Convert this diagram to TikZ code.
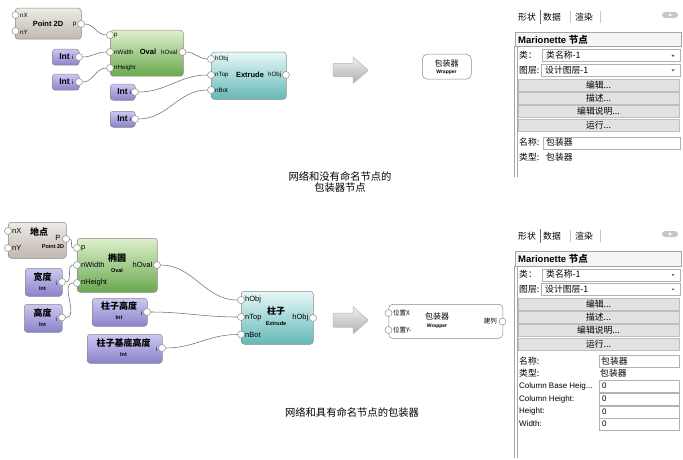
\documentclass[tikz,border=0pt]{standalone}
\usepackage{fontspec}
\setmainfont{Liberation Sans}
\newfontfamily\cjk{Noto Sans CJK SC}
\usetikzlibrary{shadows}
\definecolor{ptT}{HTML}{EEEAE6}
\definecolor{ptB}{HTML}{C0B8B0}
\definecolor{ovT}{HTML}{DDF0CC}
\definecolor{ovB}{HTML}{6AA84E}
\definecolor{exT}{HTML}{E6F8F8}
\definecolor{exB}{HTML}{66B8B8}
\definecolor{inT}{HTML}{CCC8F0}
\definecolor{inB}{HTML}{8A82CA}
\definecolor{edgec}{HTML}{8A8A8A}
\definecolor{wirec}{HTML}{6E6E6E}
\definecolor{btnc}{HTML}{E2E2E2}
\newcommand\PanelTop{%
  \node[ptxt] (tab1) at (518,17) {形状};
  \draw[gray!85!black,line width=0.6pt] (540,10) -- (540,24);
  \node[ptxt] (tab2) at (543,17) {数据};
  \draw[gray!45] (570,11) -- (570,23);
  \node[ptxt] (tab3) at (575,17) {渲染};
  \draw[gray!45] (600,11) -- (600,23);
  \node[fill=gray!45,rounded corners=3pt,minimum width=16pt,minimum height=6pt,inner sep=0pt] (pill) at (670,15) {};
  \fill[white] (669,13.3) -- (672,15) -- (669,16.7) -- cycle;
  \node[draw=gray!70,fill=gray!8,anchor=north west,minimum width=166pt,minimum height=14.5pt,inner sep=0pt,line width=0.5pt] (mbox) at (515,32) {};
  \node[ptxt,font=\bfseries\fontsize{9.5}{10}\selectfont] (mtxt) at (518,39.5) {Marionette {\cjk 节点}};
  \node[ptxt] (lc) at (519,55.5) {类：};
  \node[pfield,minimum width=138pt] (fc) at (542,49.5) {};
  \node[ptxt] (fct) at (546,55.5) {类名称-1};
  \fill[gray!70!black] (671.5,55) -- (674.5,55) -- (673,57) -- cycle;
  \node[ptxt] (ll) at (519,70) {图层:};
  \node[pfield,minimum width=139pt] (fl) at (541,64) {};
  \node[ptxt] (flt) at (545,70) {设计图层-1};
  \fill[gray!70!black] (671.5,69.5) -- (674.5,69.5) -- (673,71.5) -- cycle;
  \node[pbtn] (b1) at (598.5,85) {编辑...};
  \node[pbtn] (b2) at (598.5,98) {描述...};
  \node[pbtn] (b3) at (598.5,111) {编辑说明...};
  \node[pbtn] (b4) at (598.5,125) {运行...};
}
\begin{document}
\begin{tikzpicture}[x=1pt,y=-1pt,
  port/.style={circle,draw=edgec,fill=white,inner sep=0pt,minimum size=7pt,line width=0.5pt},
  wire/.style={draw=wirec,line width=0.55pt},
  blk/.style={draw=edgec,rounded corners=3pt,anchor=north west,inner sep=0pt,line width=0.5pt},
  ptb/.style={blk,top color=ptT,bottom color=ptB},
  ovb/.style={blk,top color=ovT,bottom color=ovB},
  exb/.style={blk,top color=exT,bottom color=exB},
  inb/.style={blk,top color=inT,bottom color=inB},
  lbl/.style={inner sep=0pt,anchor=west,font=\fontsize{6.2}{7}\selectfont},
  rlbl/.style={inner sep=0pt,anchor=east,font=\fontsize{6.2}{7}\selectfont},
  lblb/.style={inner sep=0pt,anchor=west,font=\fontsize{7.5}{8}\selectfont},
  rlblb/.style={inner sep=0pt,anchor=east,font=\fontsize{7.5}{8}\selectfont},
  ttl/.style={inner sep=0pt,font=\bfseries\fontsize{7.5}{8}\selectfont},
  intt/.style={inner sep=0pt,font=\bfseries\fontsize{8.5}{9}\selectfont},
  ctt/.style={inner sep=0pt,font=\cjk\bfseries\fontsize{9}{10}\selectfont},
  subt/.style={inner sep=0pt,font=\bfseries\fontsize{5.5}{6}\selectfont},
  ptxt/.style={inner sep=0pt,anchor=west,font=\cjk\fontsize{8.8}{9}\selectfont},
  etxt/.style={inner sep=0pt,anchor=west,font=\fontsize{8}{8.5}\selectfont},
  pfield/.style={draw=gray!60,fill=white,anchor=north west,minimum height=12pt,inner sep=0pt,line width=0.4pt},
  pbtn/.style={draw=gray!50,fill=btnc,minimum width=161pt,minimum height=12pt,inner sep=0pt,line width=0.4pt,font=\cjk\fontsize{8.8}{9}\selectfont},
  bigarrow/.style={draw=gray!55,top color=gray!12,bottom color=gray!62,line width=0.5pt,
     drop shadow={shadow xshift=0.7pt,shadow yshift=-0.7pt,opacity=0.35}},
  wrapbox/.style={draw=edgec,fill=white,anchor=north west,inner sep=0pt,line width=0.5pt,rounded corners=5pt},
  captxt/.style={inner sep=0pt,align=center,font=\cjk\fontsize{10.3}{11}\selectfont}
]
\useasboundingbox (0,0) rectangle (683,460);

% ================= TOP NETWORK =================
\node[ptb,minimum width=66pt,minimum height=31pt] (A) at (15,8) {};
\node[ttl] (A-t) at (48,24) {Point 2D};
\node[lbl] (A-nxl) at (20,15) {nX};
\node[lbl] (A-nyl) at (20,32) {nY};
\node[rlbl] (A-pl) at (76.5,24) {p};
\node[port] (A-nx) at (15.5,15) {};
\node[port] (A-ny) at (15.5,31) {};
\node[port] (A-p) at (81,24) {};

\node[ovb,minimum width=73pt,minimum height=46pt] (B) at (110,30) {};
\node[ttl] (B-t) at (148,52) {Oval};
\node[lbl] (B-pl) at (114,35.5) {p};
\node[lbl] (B-nwl) at (114,52) {nWidth};
\node[lbl] (B-nhl) at (114,68) {nHeight};
\node[rlbl] (B-ol) at (177.5,52) {hOval};
\node[port] (B-p) at (110,35) {};
\node[port] (B-nw) at (110,52) {};
\node[port] (B-nh) at (110,68) {};
\node[port] (B-o) at (182.5,52) {};

\node[exb,minimum width=75pt,minimum height=47pt] (C) at (211,52) {};
\node[ttl] (C-t) at (250,75) {Extrude};
\node[lbl] (C-hl) at (215,59) {hObj};
\node[lbl] (C-tl) at (215,75) {nTop};
\node[lbl] (C-bl) at (215,90) {nBot};
\node[rlbl] (C-ol) at (281.5,75) {hObj};
\node[port] (C-h) at (211,59) {};
\node[port] (C-nt) at (211,75) {};
\node[port] (C-nb) at (211,90) {};
\node[port] (C-o) at (286,75) {};

\node[inb,minimum width=27pt,minimum height=16pt] (I1) at (52,49) {};
\node[intt] (I1-t) at (64.5,57) {Int};
\node[lbl] (I1-i) at (72,57) {i};
\node[port] (I1-o) at (79,57) {};
\node[inb,minimum width=27pt,minimum height=16pt] (I2) at (52,74) {};
\node[intt] (I2-t) at (64.5,82) {Int};
\node[lbl] (I2-i) at (72,82) {i};
\node[port] (I2-o) at (79,82) {};
\node[inb,minimum width=25pt,minimum height=16pt] (I3) at (110,84) {};
\node[intt] (I3-t) at (122.5,92) {Int};
\node[lbl] (I3-i) at (129.5,92) {i};
\node[port] (I3-o) at (135,92) {};
\node[inb,minimum width=25pt,minimum height=16pt] (I4) at (110,111) {};
\node[intt] (I4-t) at (122.5,119) {Int};
\node[lbl] (I4-i) at (129.5,119) {i};
\node[port] (I4-o) at (135,119) {};

\draw[wire] (A-p) to[out=0,in=180] (B-p);
\draw[wire] (I1-o) to[out=0,in=180] (B-nw);
\draw[wire] (I2-o) to[out=0,in=180] (B-nh);
\draw[wire] (B-o) to[out=0,in=180] (C-h);
\draw[wire] (I3-o) to[out=0,in=180] (C-nt);
\draw[wire] (I4-o) to[out=0,in=180] (C-nb);

% arrow and wrapper 1
\path[bigarrow] (333,63.5) -- (353,63.5) -- (353,57) -- (368,70) -- (353,83) -- (353,76.5) -- (333,76.5) -- cycle;
\node[wrapbox,minimum width=49pt,minimum height=25pt] (W1) at (422,54) {};
\node[inner sep=0pt,font=\cjk\fontsize{8}{9}\selectfont] (W1-t) at (446.5,63) {包装器};
\node[inner sep=0pt,font=\bfseries\fontsize{5}{6}\selectfont] (W1-s) at (446.5,72) {Wrapper};

\node[captxt] (cap1) at (340,182.5) {网络和没有命名节点的\\包装器节点};

% ================= BOTTOM NETWORK =================
\node[ptb,minimum width=58pt,minimum height=36pt] (D) at (8,222) {};
\node[ctt] (D-t) at (39,232) {地点};
\node[subt] (D-s) at (53,246.5) {Point 2D};
\node[lblb] (D-nxl) at (12,231) {nX};
\node[lblb] (D-nyl) at (12,248) {nY};
\node[rlblb] (D-pl) at (60.5,238) {P};
\node[port] (D-nx) at (8,231) {};
\node[port] (D-ny) at (8,248) {};
\node[port] (D-o) at (66,239) {};

\node[ovb,minimum width=80pt,minimum height=54pt] (E) at (77,238) {};
\node[ctt] (E-t) at (117,258) {椭圆};
\node[subt] (E-s) at (117,271) {Oval};
\node[lblb] (E-pl) at (81,248.5) {p};
\node[lblb] (E-nwl) at (81,265) {nWidth};
\node[lblb] (E-nhl) at (81,283) {nHeight};
\node[rlblb] (E-ol) at (152.5,265) {hOval};
\node[port] (E-p) at (77,248) {};
\node[port] (E-nw) at (77,265) {};
\node[port] (E-nh) at (77,283) {};
\node[port] (E-o) at (157,265) {};

\node[inb,minimum width=37pt,minimum height=28pt] (F) at (25,268) {};
\node[ctt] (F-t) at (42.5,277) {宽度};
\node[subt] (F-s) at (42.5,289) {Int};
\node[lbl] (F-i) at (55.5,283.5) {i};
\node[port] (F-o) at (62,282) {};

\node[inb,minimum width=38pt,minimum height=28pt] (G) at (24,304) {};
\node[ctt] (G-t) at (42.5,313) {高度};
\node[subt] (G-s) at (42.5,325) {Int};
\node[lbl] (G-i) at (55.5,319) {i};
\node[port] (G-o) at (62,317.5) {};

\node[inb,minimum width=55pt,minimum height=28pt] (H) at (92,298) {};
\node[ctt] (H-t) at (119,306) {柱子高度};
\node[subt] (H-s) at (119,318) {Int};
\node[lbl] (H-i) at (141,313) {i};
\node[port] (H-o) at (147,312) {};

\node[inb,minimum width=75pt,minimum height=29pt] (K) at (87,334) {};
\node[ctt] (K-t) at (123.5,343) {柱子基底高度};
\node[subt] (K-s) at (123.5,355) {Int};
\node[lbl] (K-i) at (156,349.5) {i};
\node[port] (K-o) at (162,348) {};

\node[exb,minimum width=72pt,minimum height=53pt] (J) at (241,291) {};
\node[ctt] (J-t) at (276,311.5) {柱子};
\node[subt] (J-s) at (276,323.5) {Extrude};
\node[lblb] (J-hl) at (245,300) {hObj};
\node[lblb] (J-tl) at (245,317.5) {nTop};
\node[lblb] (J-bl) at (245,335) {nBot};
\node[rlblb] (J-ol) at (308.5,318) {hObj};
\node[port] (J-h) at (241,300) {};
\node[port] (J-nt) at (241,317) {};
\node[port] (J-nb) at (241,334.5) {};
\node[port] (J-o) at (313,318) {};

\draw[wire] (D-o) to[out=0,in=180] (E-p);
\draw[wire] (F-o) to[out=0,in=180] (E-nw);
\draw[wire] (G-o) to[out=0,in=180] (E-nh);
\draw[wire] (E-o) to[out=0,in=180] (J-h);
\draw[wire] (H-o) to[out=0,in=180] (J-nt);
\draw[wire] (K-o) to[out=0,in=180] (J-nb);

% arrow and wrapper 2
\path[bigarrow] (333,313) -- (353,313) -- (353,306.5) -- (368,320) -- (353,333.5) -- (353,327) -- (333,327) -- cycle;
\node[wrapbox,rounded corners=4pt,minimum width=114pt,minimum height=34pt] (W2) at (388.5,304) {};
\node[inner sep=0pt,font=\cjk\fontsize{8}{9}\selectfont] (W2-t) at (437,316.5) {包装器};
\node[inner sep=0pt,font=\bfseries\fontsize{5}{6}\selectfont] (W2-s) at (437,326.5) {Wrapper};
\node[inner sep=0pt,anchor=west,font=\cjk\fontsize{6.5}{7}\selectfont] (W2-xl) at (393,313) {位置X};
\node[inner sep=0pt,anchor=west,font=\cjk\fontsize{6.5}{7}\selectfont] (W2-yl) at (393,330) {位置Y-};
\node[inner sep=0pt,anchor=east,font=\cjk\fontsize{6.5}{7}\selectfont] (W2-ol) at (497,321.5) {建列};
\node[port] (W2-x) at (388.5,313) {};
\node[port] (W2-y) at (388.5,330) {};
\node[port] (W2-o) at (502.5,321.5) {};

\node[captxt] (cap2) at (352,413) {网络和具有命名节点的包装器};

% ================= PANEL 1 =================
\begin{scope}[name prefix=p1-]
\PanelTop
\draw[gray!70,line width=0.5pt] (514.5,46.5) -- (514.5,177);
\draw[gray!70,line width=0.5pt] (517.3,46.5) -- (517.3,177);
\node[ptxt] (ln) at (519,142.5) {名称:};
\node[pfield,minimum width=137pt] (fn) at (543,136.5) {};
\node[ptxt] (fnt) at (546,142.5) {包装器};
\node[ptxt] (lt) at (519,157) {类型:};
\node[ptxt] (ltt) at (546,157) {包装器};
\end{scope}

% ================= PANEL 2 =================
\begin{scope}[name prefix=p2-,shift={(0,219)}]
\PanelTop
\end{scope}
\begin{scope}[name prefix=p2-]
\draw[gray!70,line width=0.5pt] (514.5,265.5) -- (514.5,458);
\draw[gray!70,line width=0.5pt] (517.3,265.5) -- (517.3,458);
\node[ptxt] (ln) at (519,361) {名称:};
\node[pfield,minimum width=80pt] (fn) at (599,355) {};
\node[ptxt] (fnt) at (601,361) {包装器};
\node[ptxt] (lt) at (519,373.5) {类型:};
\node[ptxt] (ltt) at (600,373.5) {包装器};
\node[etxt] (l1) at (519,386) {Column Base Heig...};
\node[pfield,minimum width=80pt] (f1) at (599,380) {};
\node[etxt] (f1t) at (602,386) {0};
\node[etxt] (l2) at (519,399) {Column Height:};
\node[pfield,minimum width=80pt] (f2) at (599,393) {};
\node[etxt] (f2t) at (602,399) {0};
\node[etxt] (l3) at (519,411.5) {Height:};
\node[pfield,minimum width=80pt] (f3) at (599,405.5) {};
\node[etxt] (f3t) at (602,411.5) {0};
\node[etxt] (l4) at (519,424) {Width:};
\node[pfield,minimum width=80pt] (f4) at (599,418) {};
\node[etxt] (f4t) at (602,424) {0};
\end{scope}
\end{tikzpicture}
\end{document}
